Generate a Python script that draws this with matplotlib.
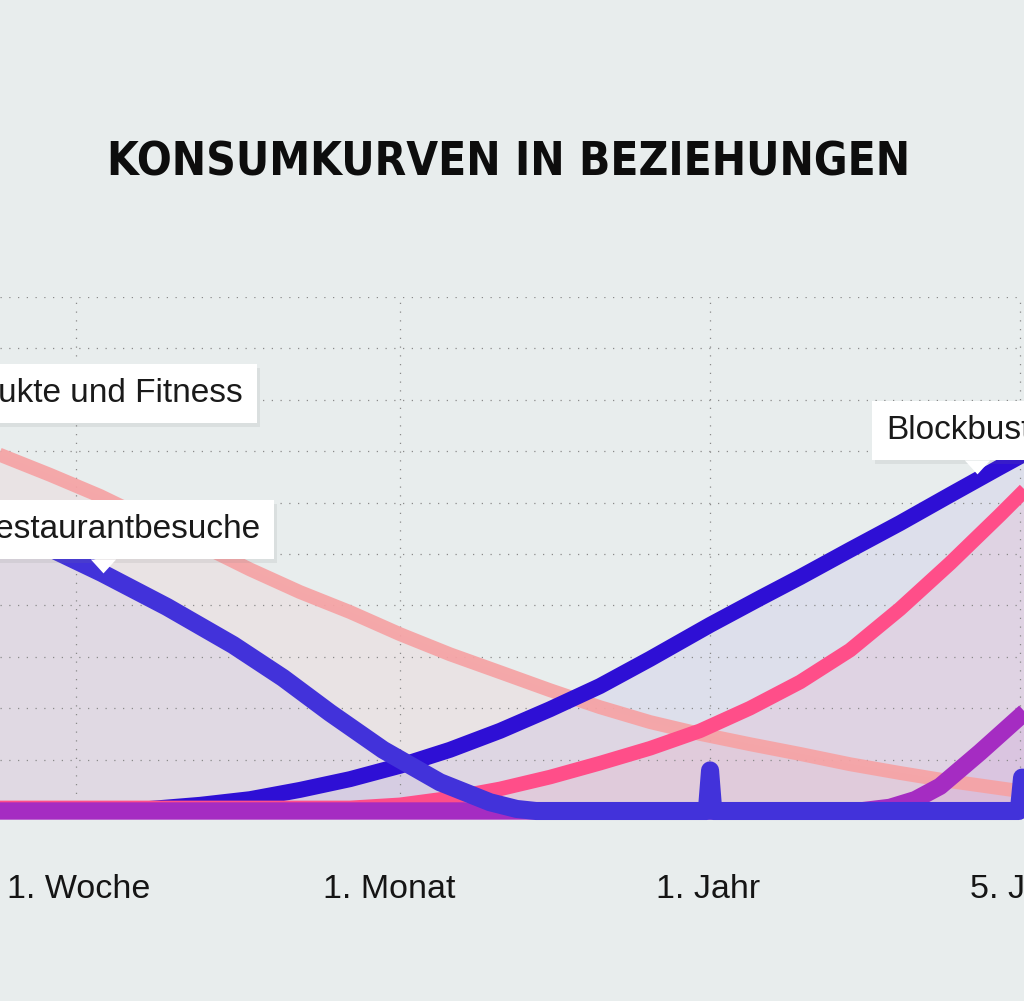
import numpy as np
import matplotlib
matplotlib.use('Agg')
import matplotlib.pyplot as plt
from matplotlib import patheffects as pe
from matplotlib import font_manager as fm

BG = '#E8EDED'

# ---------------- data ----------------
tick_labels = ['1. Woche', '1. Monat', '1. Jahr', '5. Jahr']
grid_pos = [1.0, 2.0, 2.957, 3.914]          # dotted vertical guides
label_pos = [1.009, 1.966, 2.951, 3.921]     # where the tick texts sit

pflege_x = [0.70, 0.765, 0.920, 1.074, 1.228, 1.383, 1.537, 1.691, 1.846, 2.0, 2.154,
            2.309, 2.463, 2.617, 2.772, 2.926, 3.080, 3.235, 3.389, 3.543, 3.698, 3.889]
pflege_y = [7.10, 6.93, 6.54, 6.13, 5.66, 5.18, 4.70, 4.26, 3.87, 3.44, 3.05,
            2.70, 2.35, 2.02, 1.73, 1.50, 1.30, 1.11, 0.91, 0.74, 0.58, 0.41]

rest_x = [0.704, 0.765, 0.944, 1.080, 1.281, 1.485, 1.639, 1.784, 1.948, 2.123, 2.278,
          2.36, 2.42, 2.947, 2.957, 2.967, 3.91, 3.92, 3.93, 3.95]
rest_y = [5.78, 5.58, 5.04, 4.63, 3.97, 3.23, 2.59, 1.91, 1.19, 0.56, 0.17,
          0.04, 0.0, 0.0, 0.79, 0.0, 0.0, 0.65, 0.0, 0.0]

bb_x = [0.70, 1.074, 1.228, 1.383, 1.537, 1.691, 1.846, 2.0, 2.154, 2.309, 2.463,
        2.617, 2.772, 2.957, 3.111, 3.235, 3.389, 3.543, 3.698, 3.852, 4.006]
bb_y = [0.0, 0.0, 0.04, 0.12, 0.23, 0.41, 0.62, 0.88, 1.19, 1.56, 1.98,
        2.43, 2.96, 3.62, 4.14, 4.55, 5.08, 5.60, 6.15, 6.69, 7.22]

pink_x = [0.70, 1.846, 2.0, 2.154, 2.309, 2.463, 2.617, 2.772, 2.926, 3.080, 3.235,
          3.389, 3.543, 3.698, 3.852, 4.006]
pink_y = [0.06, 0.06, 0.12, 0.25, 0.43, 0.66, 0.93, 1.22, 1.56, 2.00, 2.51,
          3.13, 3.93, 4.82, 5.76, 6.73]

purple_x = [0.70, 3.42, 3.512, 3.59, 3.667, 3.79, 3.914, 4.006]
purple_y = [0.0, 0.0, 0.07, 0.22, 0.48, 1.14, 1.84, 2.36]

labels = ['Pflegeprodukte und Fitness', 'Restaurantbesuche', 'Blockbuster']
title = 'KONSUMKURVEN IN BEZIEHUNGEN'

# ---------------- fonts ----------------
names = {f.name for f in fm.fontManager.ttflist}
def pick(cands):
    for c in cands:
        if c in names:
            return c
    return 'DejaVu Sans'
body_font = pick(['Liberation Sans', 'DejaVu Sans'])

def sval(f):
    s = f.stretch
    if isinstance(s, str):
        return fm.stretch_dict.get(s, 500)
    return s
def wval(f):
    w = f.weight
    if isinstance(w, str):
        return fm.weight_dict.get(w, 400)
    return w

cond = [f for f in fm.fontManager.ttflist
        if 600 <= wval(f) <= 800 and f.style == 'normal'
        and (sval(f) < 500 or 'Narrow' in f.name or 'Condensed' in f.name)
        and f.fname.lower().endswith(('.ttf', '.otf'))]
if cond:
    cond.sort(key=lambda f: (sval(f), abs(wval(f) - 700)))
    title_fp = fm.FontProperties(fname=cond[0].fname)
else:
    title_fp = fm.FontProperties(family='DejaVu Sans', weight='bold')

# ---------------- figure ----------------
fig = plt.figure(figsize=(10.24, 10.01), dpi=100, facecolor=BG)
ax = fig.add_axes([0, (1001 - 811) / 1001, 1, (811 - 297) / 1001])
ax.set_facecolor(BG)
for s in ax.spines.values():
    s.set_visible(False)

ax.set_xticks(label_pos)
ax.set_xticklabels(tick_labels, fontsize=24.5, family=body_font, color='#151515')
ax.set_yticks(range(1, 11))
ax.set_yticklabels([])
ax.tick_params(axis='both', length=0)
ax.tick_params(axis='x', pad=45)
ax.set_axisbelow('line')
grid_kw = dict(color='#8a8a8a', lw=0.9, linestyle=(0, (1, 6)))
ax.grid(True, axis='y', **grid_kw)
ax.vlines(grid_pos, 0, 10, zorder=1.5, **grid_kw)

series = [
    (pflege_x, pflege_y, '#F6A2A4', 10.0, 0.12, 2, 0.92),
    (bb_x, bb_y, '#2E0FD5', 11.5, 0.06, 3, 1.0),
    (pink_x, pink_y, '#FF4E89', 10.5, 0.08, 4, 1.0),
    (purple_x, purple_y, '#A52CC2', 12.5, 0.08, 5, 1.0),
    (rest_x, rest_y, '#4232DA', 13.0, 0.05, 6, 1.0),
]
for x, y, c, lw, fa, z, la in series:
    ax.fill_between(x, 0, y, color=c, alpha=fa, lw=0, zorder=1, clip_on=False)
for x, y, c, lw, fa, z, la in series:
    ax.plot(x, y, color=c, lw=lw, alpha=la, solid_capstyle='butt',
            solid_joinstyle='round', zorder=z, clip_on=False)
ax.set_xlim(0.7654, 3.926)
ax.set_ylim(0, 10)

# ---------------- labels ----------------
def box_text(x, y, s, ha):
    t = ax.text(x, y, s, ha=ha, va='baseline', fontsize=24, family=body_font,
                color='#1a1a1a', zorder=10,
                bbox=dict(boxstyle='square,pad=0.42', fc='white', ec='none'))
    t.get_bbox_patch().set_path_effects([
        pe.SimplePatchShadow(offset=(2, -3), shadow_rgbFace='#7a8080', alpha=0.12),
        pe.Normal()])
    return t

box_text(1.515, 7.96, labels[0], 'right')
box_text(1.568, 5.31, labels[1], 'right')
box_text(3.50, 7.24, labels[2], 'left')

# pointers (white triangles under label boxes, pointing at the lines)
tri = [(-1, 0), (1, 0), (0, -1.1)]
for lx, sx, sy, lift in [(1.083, rest_x, rest_y, 0.29), (3.781, bb_x, bb_y, 0.39)]:
    ly = np.interp(lx, sx, sy) + lift
    ax.plot([lx], [ly], marker=tri, ms=20, color='white', mec='none',
            zorder=10.5, clip_on=False)

# ---------------- title ----------------
tt = fig.text(509 / 1024, 1 - 176 / 1001, title, ha='center', va='baseline',
              fontproperties=title_fp, fontsize=42, color='#0d0d0d')
fig.canvas.draw()
w = tt.get_window_extent(fig.canvas.get_renderer()).width
tt.set_fontsize(min(50, 42 * 806 / w))

fig.savefig('out.png', dpi=100, facecolor=BG)
